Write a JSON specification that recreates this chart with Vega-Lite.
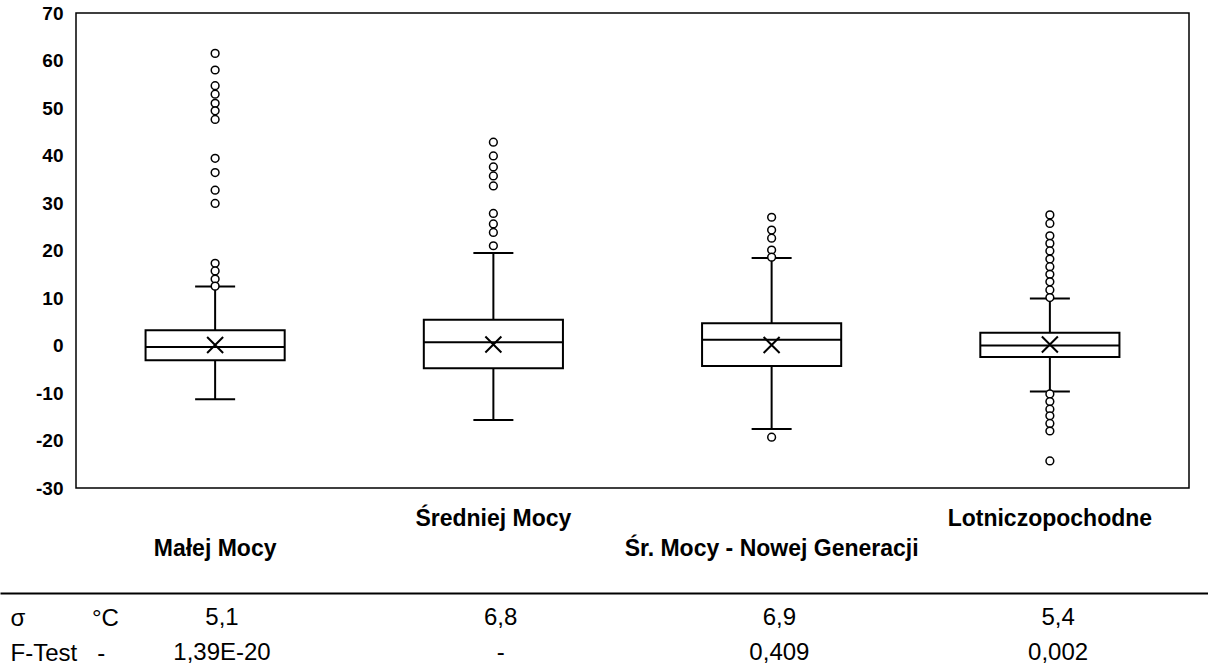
{
  "$schema": "https://vega.github.io/schema/vega-lite/v6.json",
  "background": "white",
  "padding": {"left": 0, "top": 3, "right": 0, "bottom": 0},
  "config": {
    "font": "Liberation Sans",
    "view": {"stroke": null},
    "axisY": {"labelFontWeight": "bold", "labelFontSize": 19, "labelColor": "black", "labelFont": "Liberation Sans"}
  },
  "spacing": 32,
  "vconcat": [
    {
      "spacing": 0,
      "hconcat": [
        {
          "width": 0,
          "height": 475,
          "data": {"values": []},
          "mark": {"type": "point", "opacity": 0}
        },
        {
          "width": 1113,
          "height": 475,
          "view": {"stroke": "black", "strokeWidth": 1.5},
          "data": {"values": [
            {"cat": "Małej Mocy", "lower": -11.3, "q1": -3.1, "median": -0.3, "q3": 3.2, "upper": 12.4, "mean": 0.1},
            {"cat": "Średniej Mocy", "lower": -15.7, "q1": -4.8, "median": 0.7, "q3": 5.4, "upper": 19.5, "mean": 0.2},
            {"cat": "Śr. Mocy - Nowej Generacji", "lower": -17.6, "q1": -4.3, "median": 1.2, "q3": 4.7, "upper": 18.4, "mean": 0.1},
            {"cat": "Lotniczopochodne", "lower": -9.7, "q1": -2.4, "median": 0.0, "q3": 2.7, "upper": 9.9, "mean": 0.2}
          ]},
          "encoding": {
            "x": {
              "field": "cat", "type": "nominal",
              "sort": ["Małej Mocy", "Średniej Mocy", "Śr. Mocy - Nowej Generacji", "Lotniczopochodne"],
              "scale": {"type": "band", "paddingInner": 0.5, "paddingOuter": 0.25},
              "title": null,
              "axis": {
                "domain": false, "ticks": false, "tickSize": 0, "labelPadding": 19,
                "labelFont": "Liberation Sans", "labelFontWeight": "bold", "labelFontSize": 23,
                "labelColor": "black", "labelAngle": 0, "labelLimit": 0, "labelOverlap": false,
                "labelLineHeight": 30, "labelBaseline": "top",
                "labelExpr": "(datum.value == 'Małej Mocy' || datum.value == 'Śr. Mocy - Nowej Generacji') ? ['', datum.label] : datum.label"
              }
            }
          },
          "layer": [
            {
              "mark": {"type": "rule", "color": "black", "strokeWidth": 2},
              "encoding": {
                "y": {
                  "field": "lower", "type": "quantitative", "title": null,
                  "scale": {"domain": [-30, 70], "nice": false, "zero": false},
                  "axis": {
                    "values": [-30, -20, -10, 0, 10, 20, 30, 40, 50, 60, 70],
                    "grid": false, "domain": false, "ticks": false, "tickSize": 0, "labelPadding": 13,
                    "labelFont": "Liberation Sans", "labelFontWeight": "bold", "labelFontSize": 19,
                    "labelColor": "black", "minExtent": 55,
                    "labelExpr": "'' + datum.value"
                  }
                },
                "y2": {"field": "upper"}
              }
            },
            {
              "mark": {"type": "bar", "fill": "white", "stroke": "black", "strokeWidth": 2},
              "encoding": {
                "y": {"field": "q1", "type": "quantitative", "title": null},
                "y2": {"field": "q3"}
              }
            },
            {
              "mark": {"type": "tick", "color": "black", "size": 139, "thickness": 2, "opacity": 1},
              "encoding": {"y": {"field": "median", "type": "quantitative", "title": null}}
            },
            {
              "mark": {"type": "tick", "color": "black", "size": 40, "thickness": 2, "opacity": 1},
              "encoding": {"y": {"field": "lower", "type": "quantitative", "title": null}}
            },
            {
              "mark": {"type": "tick", "color": "black", "size": 40, "thickness": 2, "opacity": 1},
              "encoding": {"y": {"field": "upper", "type": "quantitative", "title": null}}
            },
            {
              "mark": {"type": "point", "shape": "M-1,-1L1,1M-1,1L1,-1", "size": 256, "filled": false, "stroke": "black", "strokeWidth": 2, "opacity": 1},
              "encoding": {"y": {"field": "mean", "type": "quantitative", "title": null}}
            },
            {
              "data": {"values": [
                {"cat": "Małej Mocy", "v": 61.5}, {"cat": "Małej Mocy", "v": 58.0}, {"cat": "Małej Mocy", "v": 54.7},
                {"cat": "Małej Mocy", "v": 52.9}, {"cat": "Małej Mocy", "v": 51.0}, {"cat": "Małej Mocy", "v": 49.4},
                {"cat": "Małej Mocy", "v": 47.6}, {"cat": "Małej Mocy", "v": 39.4}, {"cat": "Małej Mocy", "v": 36.4},
                {"cat": "Małej Mocy", "v": 32.7}, {"cat": "Małej Mocy", "v": 29.9}, {"cat": "Małej Mocy", "v": 17.3},
                {"cat": "Małej Mocy", "v": 15.7}, {"cat": "Małej Mocy", "v": 14.0}, {"cat": "Małej Mocy", "v": 12.5},
                {"cat": "Średniej Mocy", "v": 42.8}, {"cat": "Średniej Mocy", "v": 39.9}, {"cat": "Średniej Mocy", "v": 37.6},
                {"cat": "Średniej Mocy", "v": 35.7}, {"cat": "Średniej Mocy", "v": 33.6}, {"cat": "Średniej Mocy", "v": 27.8},
                {"cat": "Średniej Mocy", "v": 25.6}, {"cat": "Średniej Mocy", "v": 23.8}, {"cat": "Średniej Mocy", "v": 21.0},
                {"cat": "Śr. Mocy - Nowej Generacji", "v": 27.0}, {"cat": "Śr. Mocy - Nowej Generacji", "v": 24.3},
                {"cat": "Śr. Mocy - Nowej Generacji", "v": 22.6}, {"cat": "Śr. Mocy - Nowej Generacji", "v": 20.1},
                {"cat": "Śr. Mocy - Nowej Generacji", "v": 18.6}, {"cat": "Śr. Mocy - Nowej Generacji", "v": -19.3},
                {"cat": "Lotniczopochodne", "v": 27.5}, {"cat": "Lotniczopochodne", "v": 25.7}, {"cat": "Lotniczopochodne", "v": 23.1},
                {"cat": "Lotniczopochodne", "v": 21.5}, {"cat": "Lotniczopochodne", "v": 19.9}, {"cat": "Lotniczopochodne", "v": 18.2},
                {"cat": "Lotniczopochodne", "v": 16.6}, {"cat": "Lotniczopochodne", "v": 15.0}, {"cat": "Lotniczopochodne", "v": 13.4},
                {"cat": "Lotniczopochodne", "v": 11.7}, {"cat": "Lotniczopochodne", "v": 10.1},
                {"cat": "Lotniczopochodne", "v": -10.2}, {"cat": "Lotniczopochodne", "v": -11.8}, {"cat": "Lotniczopochodne", "v": -13.4},
                {"cat": "Lotniczopochodne", "v": -14.8}, {"cat": "Lotniczopochodne", "v": -16.4}, {"cat": "Lotniczopochodne", "v": -18.0},
                {"cat": "Lotniczopochodne", "v": -24.3}
              ]},
              "mark": {"type": "point", "shape": "circle", "size": 60, "filled": true, "fill": "white", "stroke": "black", "strokeWidth": 1.5, "opacity": 1},
              "encoding": {"y": {"field": "v", "type": "quantitative", "title": null}}
            }
          ]
        }
      ]
    },
    {
      "width": 1208,
      "height": 72,
      "data": {"values": [
        {"row": "σ", "cat": "Małej Mocy", "val": "5,1"},
        {"row": "σ", "cat": "Średniej Mocy", "val": "6,8"},
        {"row": "σ", "cat": "Śr. Mocy - Nowej Generacji", "val": "6,9"},
        {"row": "σ", "cat": "Lotniczopochodne", "val": "5,4"},
        {"row": "F-Test", "cat": "Małej Mocy", "val": "1,39E-20"},
        {"row": "F-Test", "cat": "Średniej Mocy", "val": "-"},
        {"row": "F-Test", "cat": "Śr. Mocy - Nowej Generacji", "val": "0,409"},
        {"row": "F-Test", "cat": "Lotniczopochodne", "val": "0,002"}
      ]},
      "mark": {"type": "text", "font": "Liberation Sans", "fontSize": 24, "color": "black"},
      "encoding": {
        "x": {
          "field": "cat", "type": "nominal", "title": null,
          "sort": ["Małej Mocy", "Średniej Mocy", "Śr. Mocy - Nowej Generacji", "Lotniczopochodne"],
          "scale": {"type": "band", "paddingInner": 0.5, "paddingOuter": 0.4172, "align": 0.655},
          "axis": {"orient": "top", "labels": false, "ticks": false, "tickSize": 0, "domain": true, "domainColor": "black", "domainWidth": 2}
        },
        "y": {
          "field": "row", "type": "nominal", "title": null,
          "sort": ["σ", "F-Test"],
          "scale": {"type": "point", "padding": 0.5286, "align": 0.676},
          "axis": {
            "domain": false, "ticks": false, "tickSize": 0, "labelAlign": "left", "labelPadding": -10,
            "labelFont": "Liberation Sans", "labelFontSize": 24, "labelFontWeight": "normal", "labelColor": "black", "minExtent": 0,
            "labelExpr": "datum.value == 'σ' ? 'σ\u00a0\u00a0\u00a0\u00a0\u00a0\u00a0\u00a0\u00a0\u00a0\u00a0°C' : 'F-Test\u00a0\u00a0\u00a0-'"
          }
        },
        "text": {"field": "val"}
      }
    }
  ]
}
